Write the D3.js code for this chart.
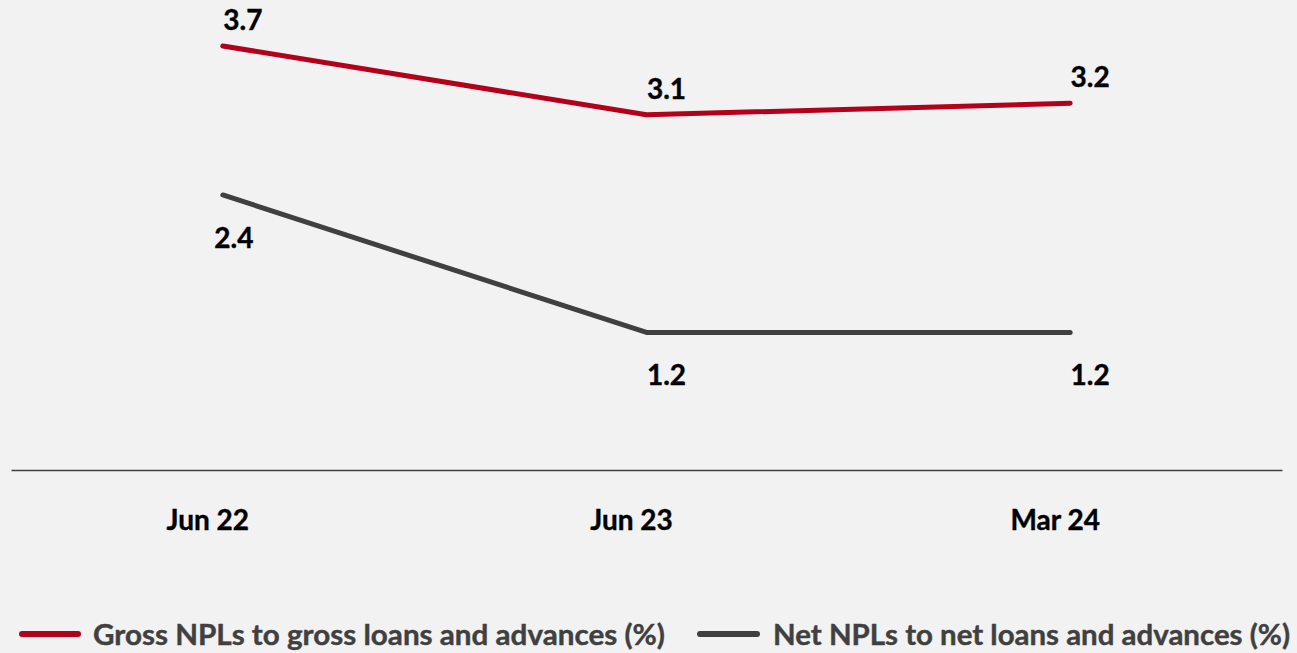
<!DOCTYPE html>
<html>
<head>
<meta charset="utf-8">
<script src="https://cdn.jsdelivr.net/npm/d3@7"></script>
<style>
  html, body { margin: 0; padding: 0; background: #f2f2f2; }
  svg { display: block; }
  text { font-family: Lato, "Open Sans", sans-serif; font-weight: bold; }
</style>
</head>
<body>
<svg id="chart" width="1297" height="653"></svg>
<script>
// Reporting periods
const categories = ["Jun 22", "Jun 23", "Mar 24"];
// NPL ratios (%)
const grossNpl = [3.7, 3.1, 3.2];
const netNpl = [2.4, 1.2, 1.2];
const seriesNames = ["Gross NPLs to gross loans and advances (%)", "Net NPLs to net loans and advances (%)"];

const W = 1297, H = 653;
const svg = d3.select("#chart");
svg.append("rect").attr("width", W).attr("height", H).attr("fill", "#f2f2f2");

const x = d3.scaleBand().domain(categories).range([11, 1282]);
const y = d3.scaleLinear().domain([0, 3.7]).range([470, 46]);
const cx = d => x(d) + x.bandwidth() / 2;

const series = [
  { name: seriesNames[0], values: grossNpl, color: "#b3001b", labelDy: -16 },
  { name: seriesNames[1], values: netNpl, color: "#404040", labelDy: 53 }
];

// Category axis: baseline rule plus bold period labels
const axis = d3.axisBottom(x).tickSize(0).tickPadding(0);
const gAxis = svg.append("g").attr("transform", "translate(0,470)").call(axis);
gAxis.select(".domain").attr("stroke", "#404040").attr("stroke-width", 1.5);
gAxis.selectAll(".tick text")
  .attr("y", 60)
  .attr("dx", -15)
  .attr("dy", 0)
  .attr("fill", "#000")
  .attr("stroke", "#000")
  .attr("stroke-width", 0.4)
  .style("font-size", "28px")
  .style("font-family", "Lato, sans-serif")
  .style("font-weight", "bold");

const line = d3.line()
  .x((v, i) => cx(categories[i]))
  .y(v => y(v));

series.forEach(s => {
  svg.append("path")
    .datum(s.values)
    .attr("d", line)
    .attr("fill", "none")
    .attr("stroke", s.color)
    .attr("stroke-width", 5)
    .attr("stroke-linecap", "round")
    .attr("stroke-linejoin", "round");

  svg.append("g").selectAll("text")
    .data(s.values)
    .join("text")
    .attr("x", (v, i) => cx(categories[i]) + (i === 0 && s.labelDy > 0 ? 11 : 20))
    .attr("y", v => y(v) + s.labelDy)
    .attr("text-anchor", "middle")
    .attr("fill", "#000")
    .attr("stroke", "#000")
    .attr("stroke-width", 0.4)
    .style("font-size", "28px")
    .text(v => d3.format(".1f")(v));
});

// Legend
const legendItems = [
  { x0: 22, x1: 78, tx: 93, width: 572 },
  { x0: 700, x1: 757, tx: 773, width: 517 }
];
series.forEach((s, i) => {
  const L = legendItems[i];
  svg.append("line")
    .attr("x1", L.x0).attr("x2", L.x1)
    .attr("y1", 634).attr("y2", 634)
    .attr("stroke", s.color)
    .attr("stroke-width", 6)
    .attr("stroke-linecap", "round");
  svg.append("text")
    .attr("x", L.tx)
    .attr("y", 645)
    .attr("fill", "#404040")
    .attr("stroke", "#404040")
    .attr("stroke-width", 0.4)
    .style("font-size", "28px")
    .attr("textLength", L.width)
    .attr("lengthAdjust", "spacingAndGlyphs")
    .text(s.name);
});
</script>
</body>
</html>
